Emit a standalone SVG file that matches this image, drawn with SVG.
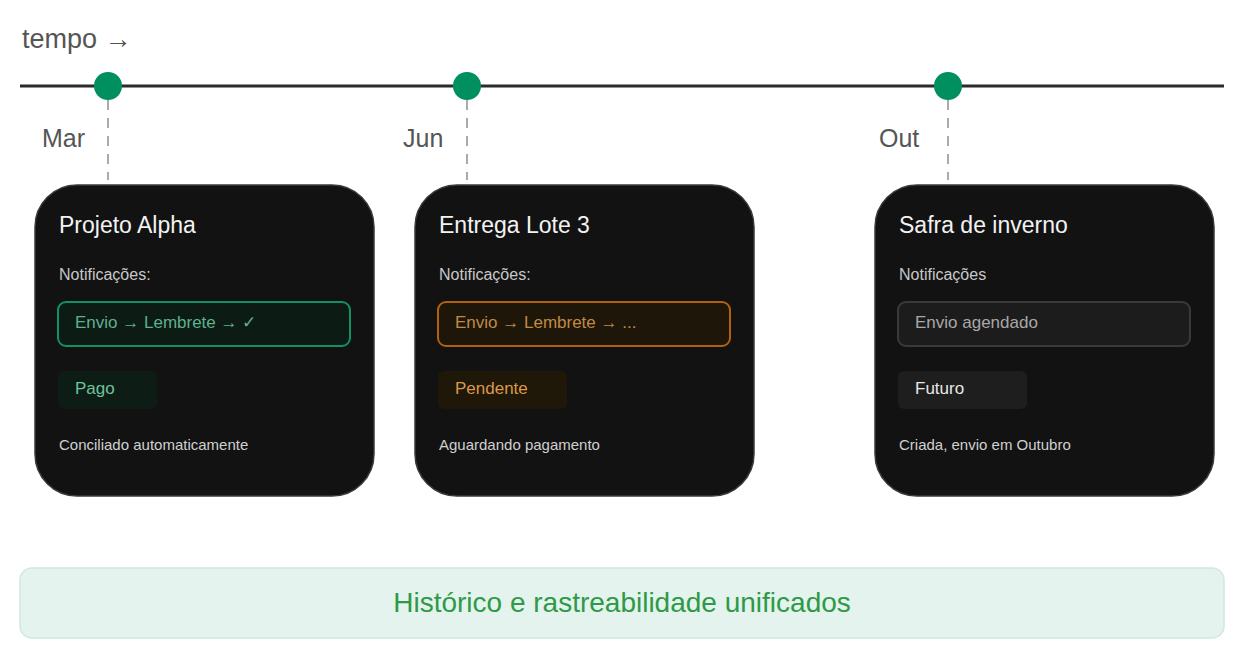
<svg xmlns="http://www.w3.org/2000/svg" width="1244" height="659" viewBox="0 0 1244 659">
<style>
text{font-family:"Liberation Sans","Open Sans",sans-serif}
.card{fill:#121212;stroke:#3a3a3a;stroke-width:1.5}
.title{fill:#f2f2f2;font-size:23px}
.sub{fill:#c8c8c8;font-size:16px}
.foot{fill:#d0d0d0;font-size:15px}
.mon{fill:#555;font-size:25px}
.dot{fill:#008f5f}
.dash{stroke:#aaa;stroke-width:2;stroke-dasharray:10 8}
</style>
<rect width="1244" height="659" fill="#fff"/>
<text x="22" y="48" class="mon" style="font-size:27px">tempo →</text>
<g id="connectors">
<line x1="20" y1="86" x2="1224" y2="86" stroke="#2b2b2b" stroke-width="3"/>
<line x1="108" y1="100" x2="108" y2="180" class="dash"/>
<line x1="467" y1="100" x2="467" y2="180" class="dash"/>
<line x1="948" y1="100" x2="948" y2="180" class="dash"/>
</g>
<g id="m1"><circle cx="108" cy="86" r="14" class="dot"/><text x="42" y="147" class="mon">Mar</text></g>
<g id="m2"><circle cx="467" cy="86" r="14" class="dot"/><text x="403" y="147" class="mon">Jun</text></g>
<g id="m3"><circle cx="948" cy="86" r="14" class="dot"/><text x="879" y="147" class="mon">Out</text></g>
<g id="card1">
<rect x="35" y="185" width="339" height="311" rx="42" class="card"/>
<text x="59" y="233" class="title">Projeto Alpha</text>
<text x="59" y="280" class="sub">Notificações:</text>
<rect x="58" y="302" width="292" height="44" rx="8" fill="#0d1b15" stroke="#129066" stroke-width="2"/>
<text x="75" y="328" font-size="17" fill="#5fb08e">Envio → Lembrete → ✓</text>
<rect x="58" y="371" width="99" height="38" rx="6" fill="#0d1d16"/>
<text x="75" y="394" font-size="17" fill="#6cc49c">Pago</text>
<text x="59" y="450" class="foot">Conciliado automaticamente</text>
</g>
<g id="card2">
<rect x="415" y="185" width="339" height="311" rx="42" class="card"/>
<text x="439" y="233" class="title">Entrega Lote 3</text>
<text x="439" y="280" class="sub">Notificações:</text>
<rect x="438" y="302" width="292" height="44" rx="8" fill="#1e1608" stroke="#b2620f" stroke-width="2"/>
<text x="455" y="328" font-size="17" fill="#c08a45">Envio → Lembrete → ...</text>
<rect x="438" y="371" width="129" height="38" rx="6" fill="#1f1708"/>
<text x="455" y="394" font-size="17" fill="#d9994a">Pendente</text>
<text x="439" y="450" class="foot">Aguardando pagamento</text>
</g>
<g id="card3">
<rect x="875" y="185" width="339" height="311" rx="42" class="card"/>
<text x="899" y="233" class="title">Safra de inverno</text>
<text x="899" y="280" class="sub">Notificações</text>
<rect x="898" y="302" width="292" height="44" rx="8" fill="#1c1c1c" stroke="#3a3a3a" stroke-width="2"/>
<text x="915" y="328" font-size="17" fill="#a8a8a8">Envio agendado</text>
<rect x="898" y="371" width="129" height="38" rx="6" fill="#1e1e1e"/>
<text x="915" y="394" font-size="17" fill="#e8e8e8">Futuro</text>
<text x="899" y="450" class="foot">Criada, envio em Outubro</text>
</g>
<g id="banner">
<rect x="20" y="568" width="1204" height="70" rx="12" fill="#e4f3ed" stroke="#d0e9de" stroke-width="1.5"/>
<text x="622" y="612" text-anchor="middle" font-size="28" fill="#2e9a48">Histórico e rastreabilidade unificados</text>
</g>
</svg>
